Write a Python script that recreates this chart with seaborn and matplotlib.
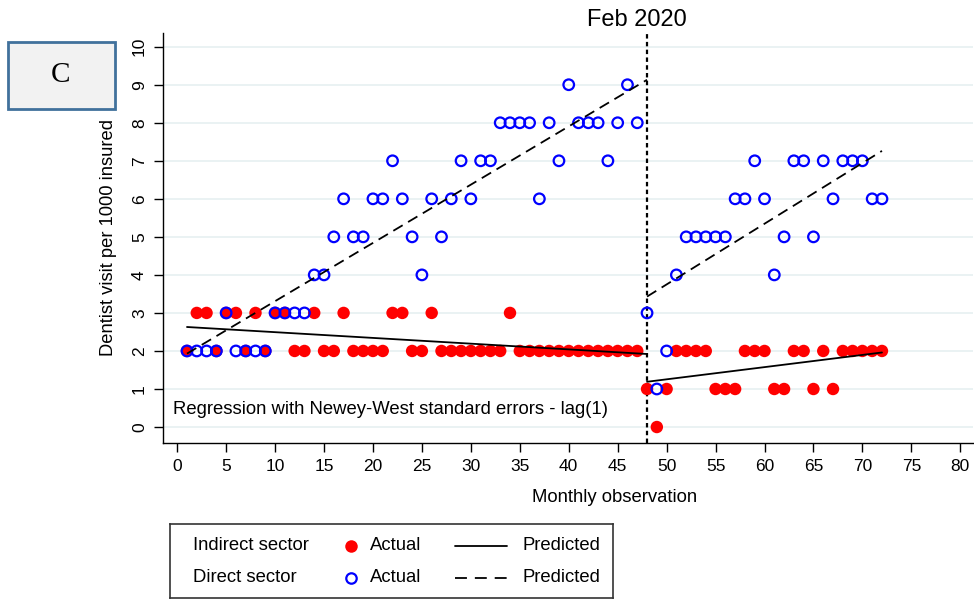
import numpy as np
import pandas as pd
import matplotlib
matplotlib.use('Agg')
import matplotlib.pyplot as plt
import seaborn as sns
from matplotlib.patches import Rectangle

# monthly observations 1..72, break at month 48 (Feb 2020)
months = list(range(1, 73))

indirect = [2, 3, 3, 2, 3, 3, 2, 3, 2, 3, 3, 2, 2, 3, 2, 2, 3, 2, 2, 2, 2, 3, 3, 2,
            2, 3, 2, 2, 2, 2, 2, 2, 2, 3, 2, 2, 2, 2, 2, 2, 2, 2, 2, 2, 2, 2, 2, 1,
            0, 1, 2, 2, 2, 2, 1, 1, 1, 2, 2, 2, 1, 1, 2, 2, 1, 2, 1, 2, 2, 2, 2, 2]
direct = [2, 2, 2, 2, 3, 2, 2, 2, 2, 3, 3, 3, 3, 4, 4, 5, 6, 5, 5, 6, 6, 7, 6, 5,
          4, 6, 5, 6, 7, 6, 7, 7, 8, 8, 8, 8, 6, 8, 7, 9, 8, 8, 8, 7, 8, 9, 8, 3,
          1, 2, 4, 5, 5, 5, 5, 5, 6, 6, 7, 6, 4, 5, 7, 7, 5, 7, 6, 7, 7, 7, 6, 6]

# predicted segments (start / end month)
pred_pre_months = [1, 48]
pred_post_months = [48, 72]
indirect_pred_pre = [2.63, 1.92]
indirect_pred_post = [1.19, 1.96]
direct_pred_pre = [1.93, 9.13]
direct_pred_post = [3.43, 7.26]

break_month = 48
x_ticks = list(range(0, 85, 5))
y_ticks = list(range(0, 11))

df = pd.DataFrame({'month': months, 'indirect': indirect, 'direct': direct})

sns.set_theme(style='white')
plt.rcParams['font.family'] = ['Liberation Sans', 'DejaVu Sans']
plt.rcParams['text.color'] = 'black'
plt.rcParams['axes.labelcolor'] = 'black'
plt.rcParams['xtick.color'] = 'black'
plt.rcParams['ytick.color'] = 'black'

fig = plt.figure(figsize=(9.74, 6), dpi=100)
ax = fig.add_axes([163/974, 1-443/600, 810/974, 410/600])

for yv in y_ticks:
    ax.axhline(yv, color='#eaf2f3', lw=1.4, zorder=0)

ax.axvline(break_month, color='black', lw=1.6, linestyle=(0, (2, 1.5)), zorder=1)

sns.scatterplot(data=df, x='month', y='indirect', color='#ff0000', s=80,
                edgecolor='none', ax=ax, zorder=3)
sns.scatterplot(data=df, x='month', y='direct', facecolor='none', edgecolor='#0000ff',
                s=58, linewidth=1.6, ax=ax, zorder=4)

for xs, ys, ls in [(pred_pre_months, indirect_pred_pre, '-'),
                   (pred_post_months, indirect_pred_post, '-'),
                   (pred_pre_months, direct_pred_pre, (0, (6, 3.5))),
                   (pred_post_months, direct_pred_post, (0, (6, 3.5)))]:
    seg = pd.DataFrame({'month': xs, 'pred': ys})
    sns.lineplot(data=seg, x='month', y='pred', color='black', lw=1.3,
                 linestyle=ls, ax=ax, zorder=5)

ax.set_xlim(-1.45, 81.3)
ax.set_ylim(-0.42, 10.36)
ax.set_xticks(x_ticks)
ax.set_yticks(y_ticks)
ax.tick_params(axis='both', direction='out', length=6.5, width=1, color='black',
               labelsize=12.5, left=True, bottom=True, pad=5)
plt.setp(ax.get_yticklabels(), rotation=90, va='center')
for s in ['top', 'right']:
    ax.spines[s].set_visible(False)
for s in ['left', 'bottom']:
    ax.spines[s].set_color('black')
    ax.spines[s].set_linewidth(1)

ax.set_xlabel('Monthly observation', fontsize=13.3)
ax.set_ylabel('Dentist visit per 1000 insured', fontsize=13.2)
ax.xaxis.set_label_coords(0.557, -0.112)
ax.yaxis.set_label_coords(-0.057, 0.5)

ax.text(-0.4, 0.45, 'Regression with Newey-West standard errors - lag(1)',
        fontsize=13.3, ha='left', va='center')

fig.text(637/974, 1-20/600, 'Feb 2020', fontsize=17, ha='center', va='center')

# panel tag
fig.patches.append(Rectangle((8/974, 1-109/600), 107/974, 67/600, transform=fig.transFigure,
                             facecolor='#f2f2f2', edgecolor='#41719c', lw=2))
fig.text(61/974, 1-75/600, 'C', fontsize=21, family='Liberation Serif',
         ha='center', va='center')

# legend drawn in its own pixel-scaled axes
lax = fig.add_axes([170/974, 1-598/600, 443/974, 74/600])
lax.set_xlim(170, 613)
lax.set_ylim(598, 524)
lax.set_xticks([])
lax.set_yticks([])
for s in lax.spines.values():
    s.set_color('#333333')
    s.set_linewidth(1.2)
    s.set_visible(True)
lax.set_facecolor('white')
rows = [(546, 'Indirect sector', dict(color='#ff0000', marker='o', ms=9, mec='none'), '-'),
        (578, 'Direct sector', dict(color='#0000ff', marker='o', ms=7.5, mfc='none', mew=1.6), (0, (6.6, 4.4)))]
for yy, name, mk, ls in rows:
    lax.text(193, yy, name, fontsize=13.3, va='center', ha='left')
    lax.plot([351], [yy], linestyle='none', **mk)
    lax.text(370, yy, 'Actual', fontsize=13.3, va='center', ha='left')
    lax.plot([455, 507], [yy, yy], color='black', lw=1.3, linestyle=ls)
    lax.text(523, yy, 'Predicted', fontsize=13.3, va='center', ha='left')

fig.savefig('out.png', dpi=100)
